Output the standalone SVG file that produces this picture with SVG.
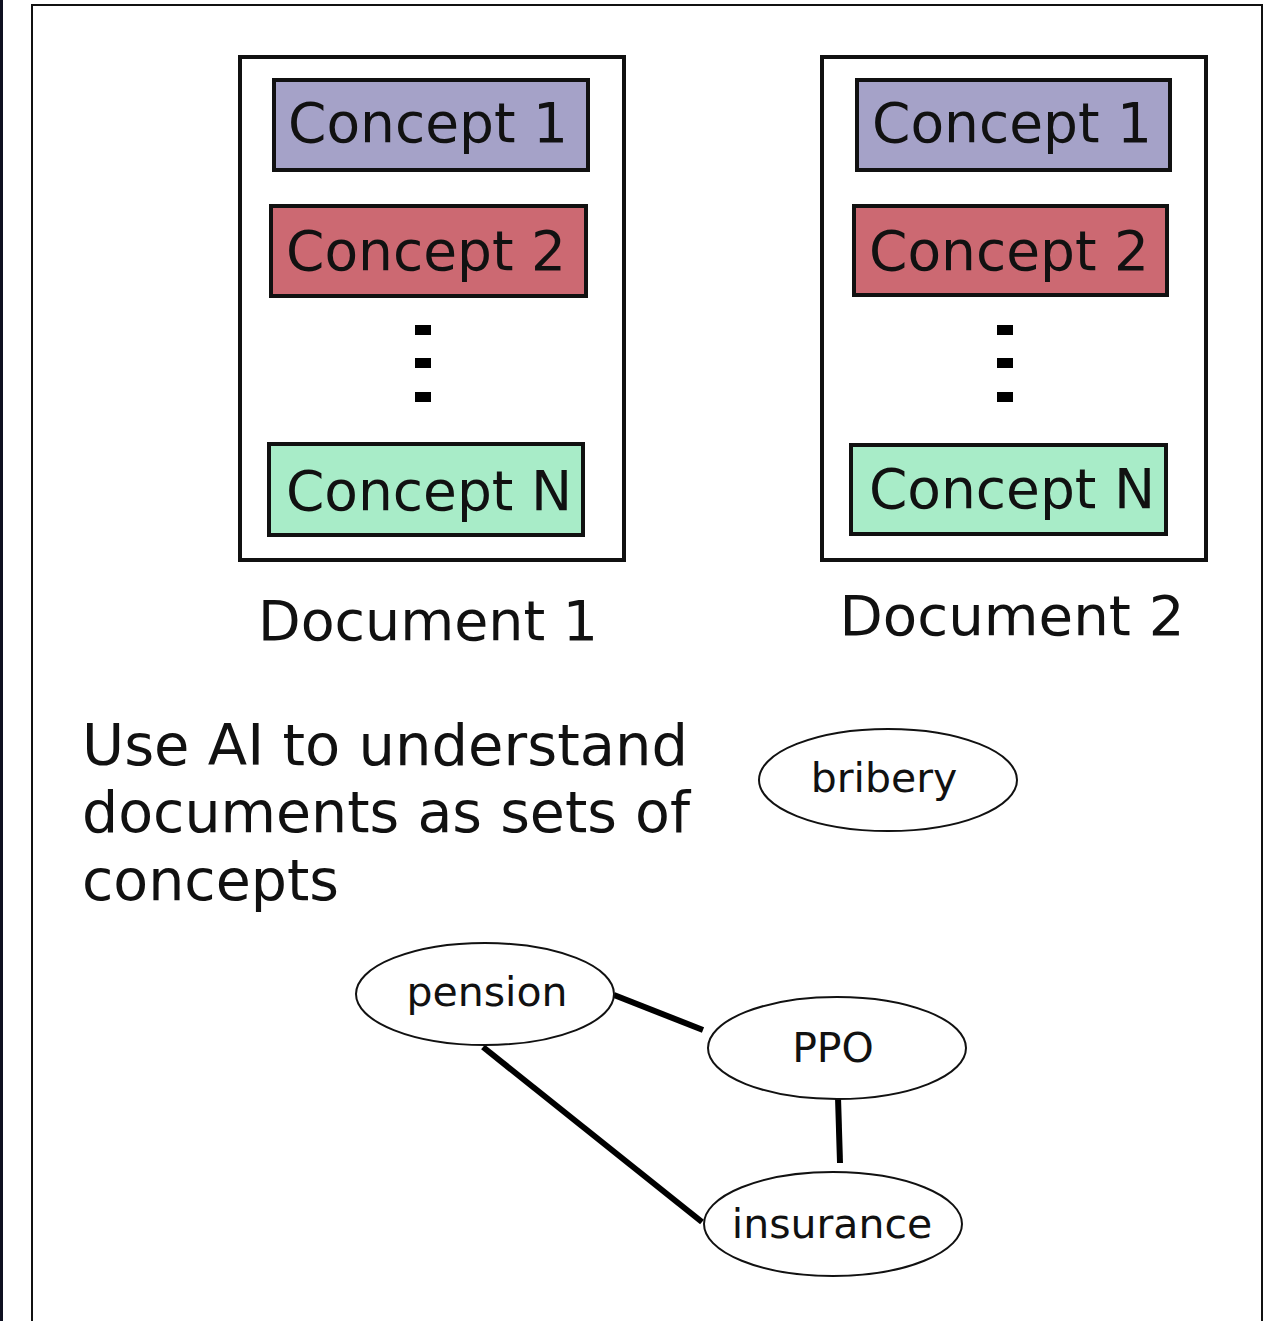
<svg xmlns="http://www.w3.org/2000/svg" width="1269" height="1321" viewBox="0 0 1269 1321">
  <style>
    .doc { fill: #ffffff; stroke: #111111; stroke-width: 4; }
    .concept { stroke: #111111; stroke-width: 4; }
    .c1 { fill: #a5a2c8; }
    .c2 { fill: #cc6972; }
    .cn { fill: #a8ecc8; }
    .dot { fill: #000000; }
    .big { font-family: "DejaVu Sans", Verdana, sans-serif; font-size: 55px; fill: #111111; }
    .caption { font-family: "DejaVu Sans", Verdana, sans-serif; font-size: 57px; fill: #111111; }
    .bubble { fill: #ffffff; stroke: #111111; stroke-width: 2; }
    .small { font-family: "DejaVu Sans", Verdana, sans-serif; font-size: 41px; fill: #111111; text-anchor: middle; }
    .link { stroke: #000000; stroke-width: 6; fill: none; }
  </style>

  <rect x="0" y="0" width="1269" height="1321" fill="#ffffff"/>
  <!-- page edges -->
  <rect x="0" y="0" width="3" height="1321" fill="#0e1020"/>
  <path d="M32,1321 V5 H1262 V1321" fill="none" stroke="#111111" stroke-width="2"/>

  <!-- document 1 -->
  <g id="document1">
    <rect class="doc" x="240" y="57" width="384" height="503"/>
    <rect class="concept c1" x="274" y="80" width="314" height="90"/>
    <text class="big" x="428" y="142" text-anchor="middle">Concept 1</text>
    <rect class="concept c2" x="271" y="206" width="315" height="90"/>
    <text class="big" x="426" y="270" text-anchor="middle">Concept 2</text>
    <rect class="dot" x="415" y="325" width="16" height="10"/>
    <rect class="dot" x="415" y="358" width="16" height="10"/>
    <rect class="dot" x="415" y="392" width="16" height="10"/>
    <rect class="concept cn" x="269" y="444" width="314" height="91"/>
    <text class="big" x="429" y="510" text-anchor="middle">Concept N</text>
    <text class="big" x="428" y="640" text-anchor="middle" textLength="340" lengthAdjust="spacingAndGlyphs">Document 1</text>
  </g>

  <!-- document 2 -->
  <g id="document2">
    <rect class="doc" x="822" y="57" width="384" height="503"/>
    <rect class="concept c1" x="857" y="80" width="313" height="90"/>
    <text class="big" x="1012" y="142" text-anchor="middle">Concept 1</text>
    <rect class="concept c2" x="854" y="206" width="313" height="89"/>
    <text class="big" x="1009" y="270" text-anchor="middle">Concept 2</text>
    <rect class="dot" x="997" y="325" width="16" height="10"/>
    <rect class="dot" x="997" y="358" width="16" height="10"/>
    <rect class="dot" x="997" y="392" width="16" height="10"/>
    <rect class="concept cn" x="851" y="445" width="315" height="89"/>
    <text class="big" x="1012" y="508" text-anchor="middle">Concept N</text>
    <text class="big" x="1012" y="635" text-anchor="middle" textLength="345" lengthAdjust="spacingAndGlyphs">Document 2</text>
  </g>

  <!-- caption -->
  <g id="caption">
    <text class="caption" x="82" y="765" textLength="606" lengthAdjust="spacingAndGlyphs">Use AI to understand</text>
    <text class="caption" x="82" y="832" textLength="608" lengthAdjust="spacingAndGlyphs">documents as sets of</text>
    <text class="caption" x="82" y="900">concepts</text>
  </g>

  <!-- connectors between concept bubbles -->
  <g id="connectors">
    <line class="link" x1="614" y1="995" x2="703" y2="1030"/>
    <line class="link" x1="483" y1="1047" x2="702" y2="1222"/>
    <line class="link" x1="838" y1="1097" x2="840" y2="1163"/>
  </g>

  <g id="bribery">
    <ellipse class="bubble" cx="888" cy="780" rx="129" ry="51"/>
    <text class="small" x="884" y="792">bribery</text>
  </g>
  <g id="pension">
    <ellipse class="bubble" cx="485" cy="994" rx="129" ry="51"/>
    <text class="small" x="487" y="1006">pension</text>
  </g>
  <g id="ppo">
    <ellipse class="bubble" cx="837" cy="1048" rx="129" ry="51"/>
    <text class="small" x="833" y="1062">PPO</text>
  </g>
  <g id="insurance">
    <ellipse class="bubble" cx="833" cy="1224" rx="129" ry="52"/>
    <text class="small" x="832" y="1238">insurance</text>
  </g>
</svg>
